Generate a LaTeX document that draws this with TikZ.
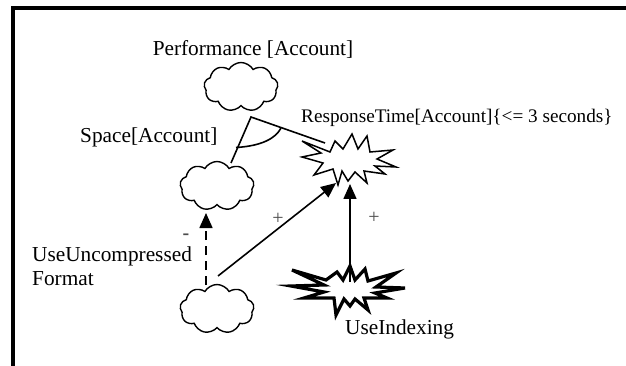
\documentclass[tikz,border=0pt]{standalone}
\usepackage{fontspec}
\setmainfont{Liberation Serif}
\usetikzlibrary{shapes.symbols,arrows.meta}
\tikzset{
  softgoal/.style={cloud, draw, line width=1.4pt, cloud puffs=9, cloud puff arc=120,
    minimum width=74pt, minimum height=49pt, inner sep=0pt, aspect=1.5},
  lbl/.style={font=\fontsize{21.3}{24}\selectfont, inner sep=0pt},
  rtlbl/.style={font=\fontsize{19.2}{22}\selectfont, inner sep=0pt},
  sign/.style={font=\fontsize{20}{22}\selectfont, text=black!70, inner sep=0pt},
  contrib/.style={line width=1.6pt, -{Triangle[length=15pt,width=13pt]}},
  thinstar/.style={line width=1.5pt, line join=miter, fill=white},
  thickstar/.style={line width=3.2pt, line join=miter, fill=white},
}
\begin{document}
\begin{tikzpicture}[x=1pt,y=-1pt]
\useasboundingbox (0,0) rectangle (626,366);
% frame
\draw[line width=4pt] (13,366) -- (13,8) -- (626,8);

% texts
\node[lbl, anchor=base] (tperf) at (253,56) {Performance [Account]};
\node[lbl, anchor=base west] (tspace) at (80,143) {Space[Account]};
\node[rtlbl, anchor=base west] (trt) at (301,123) {ResponseTime[Account]\{<= 3 seconds\}};
\node[lbl, anchor=base west, align=left] (tunc) at (32,285) {UseUncompressed\\Format};
\node[lbl, anchor=base west] (tidx) at (345,334) {UseIndexing};

% softgoals
\node[softgoal] (perf) at (241,87) {};
\node[softgoal] (space) at (217,186) {};
\node[softgoal] (unc) at (217,309) {};

% stars
\coordinate (rt) at (348,160);
\coordinate (idx) at (348,289);
\draw[thinstar] (302,141) -- (330,152) -- (335,141) -- (343,149) -- (352,134) -- (358,149)
  -- (367,136) -- (370,152) -- (393,150) -- (377,159) -- (396,167) -- (375,166)
  -- (385,174) -- (364,171) -- (367,183) -- (355,172) -- (348,181) -- (342,171)
  -- (338,185) -- (333,169) -- (314,175) -- (323,163) -- (302,157) -- (321,153) -- cycle;
\draw[thickstar] (292,270) -- (326,280) -- (337,272) -- (343,280) -- (350,266) -- (355,280)
  -- (365,269) -- (368,281) -- (396,273) -- (376,287) -- (405,288) -- (375,293)
  -- (387,298) -- (364,298) -- (368,310) -- (355,299) -- (350,306) -- (344,299)
  -- (336,315) -- (334,298) -- (304,298) -- (324,292) -- (291,286) -- (324,285) -- cycle;

% AND decomposition
\coordinate (andapex) at (251,117);
\coordinate (andsp) at (231,163);
\coordinate (andrt) at (325,143);
\draw[line width=1.6pt] (andsp) -- (andapex) -- (andrt);
\draw[line width=1.6pt] (236,147.5) .. controls (262,146) and (276,138) .. (281,128);

% contributions
\coordinate (uncstart) at (218,276);
\coordinate (rttipA) at (336,183);
\coordinate (rttipB) at (350,184);
\coordinate (idxtop) at (350,282);
\coordinate (dashstart) at (206,285);
\coordinate (spacetip) at (206,213);
\draw[contrib] (uncstart) -- (rttipA);
\draw[contrib] (idxtop) -- (rttipB);
\draw[contrib, dashed, dash pattern=on 9pt off 6pt] (dashstart) -- (spacetip);

% signs
\node[sign] (s1) at (278,219) {+};
\node[sign] (s2) at (374,218) {+};
\node[sign, font=\bfseries\fontsize{20}{22}\selectfont] (s3) at (186,237) {-};
\end{tikzpicture}
\end{document}
